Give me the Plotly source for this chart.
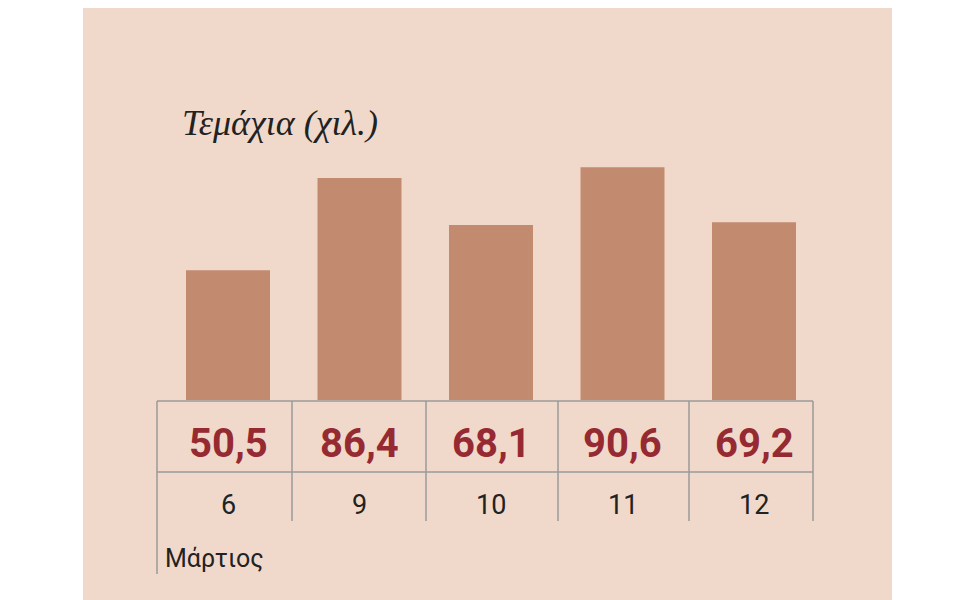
import plotly.graph_objects as go

days = ["6", "9", "10", "11", "12"]
values = [50.5, 86.4, 68.1, 90.6, 69.2]
value_labels = ["50,5", "86,4", "68,1", "90,6", "69,2"]

W, H = 960, 600
x0, dx = 220, 131.5
y0, k = 392, 2.57

def px(p): return (p - x0) / dx
def py(p): return (y0 - p) / k

xs = list(range(len(values)))
fig = go.Figure(go.Bar(x=xs, y=values, width=84/dx, marker_color="#c28a6e",
                       marker_line_width=0, hoverinfo="skip"))

shapes = [dict(type="rect", xref="paper", yref="paper", x0=75/W, x1=884/W, y0=0, y1=1,
               fillcolor="#f0d9ca", line_width=0, layer="below")]
lc = "#9a9a9a"
for yy in (393, 464):
    shapes.append(dict(type="line", x0=px(149), x1=px(805), y0=py(yy), y1=py(yy), line=dict(color=lc, width=1.5)))
for xx in (149, 284, 418, 550, 681, 805):
    shapes.append(dict(type="line", x0=px(xx), x1=px(xx), y0=py(393), y1=py(566 if xx == 149 else 513),
                       line=dict(color=lc, width=1.5)))

ann = []
for i, (d, v) in enumerate(zip(days, value_labels)):
    ann.append(dict(x=i, y=py(435), text=f"<b>{v}</b>", showarrow=False,
                    font=dict(family="Roboto", size=40, color="#962a32")))
    ann.append(dict(x=i, y=py(497), text=d, showarrow=False,
                    font=dict(family="Roboto", size=27, color="#222")))
ann.append(dict(x=px(155), y=py(550), text="Μάρτιος", showarrow=False, xanchor="left",
                font=dict(family="Roboto", size=25, color="#222")))
ann.append(dict(x=px(172), y=py(115), text="<i>Τεμάχια (χιλ.)</i>", showarrow=False, xanchor="left",
                font=dict(family="Liberation Serif", size=36, color="#222")))

fig.update_layout(width=W, height=H, margin=dict(l=0, r=0, t=0, b=0),
                  paper_bgcolor="white", plot_bgcolor="rgba(0,0,0,0)",
                  xaxis=dict(range=[px(0), px(W)], visible=False, fixedrange=True),
                  yaxis=dict(range=[py(H), py(0)], visible=False, fixedrange=True),
                  shapes=shapes, annotations=ann, showlegend=False)
fig.write_html("out.html", config={"displayModeBar": False})
